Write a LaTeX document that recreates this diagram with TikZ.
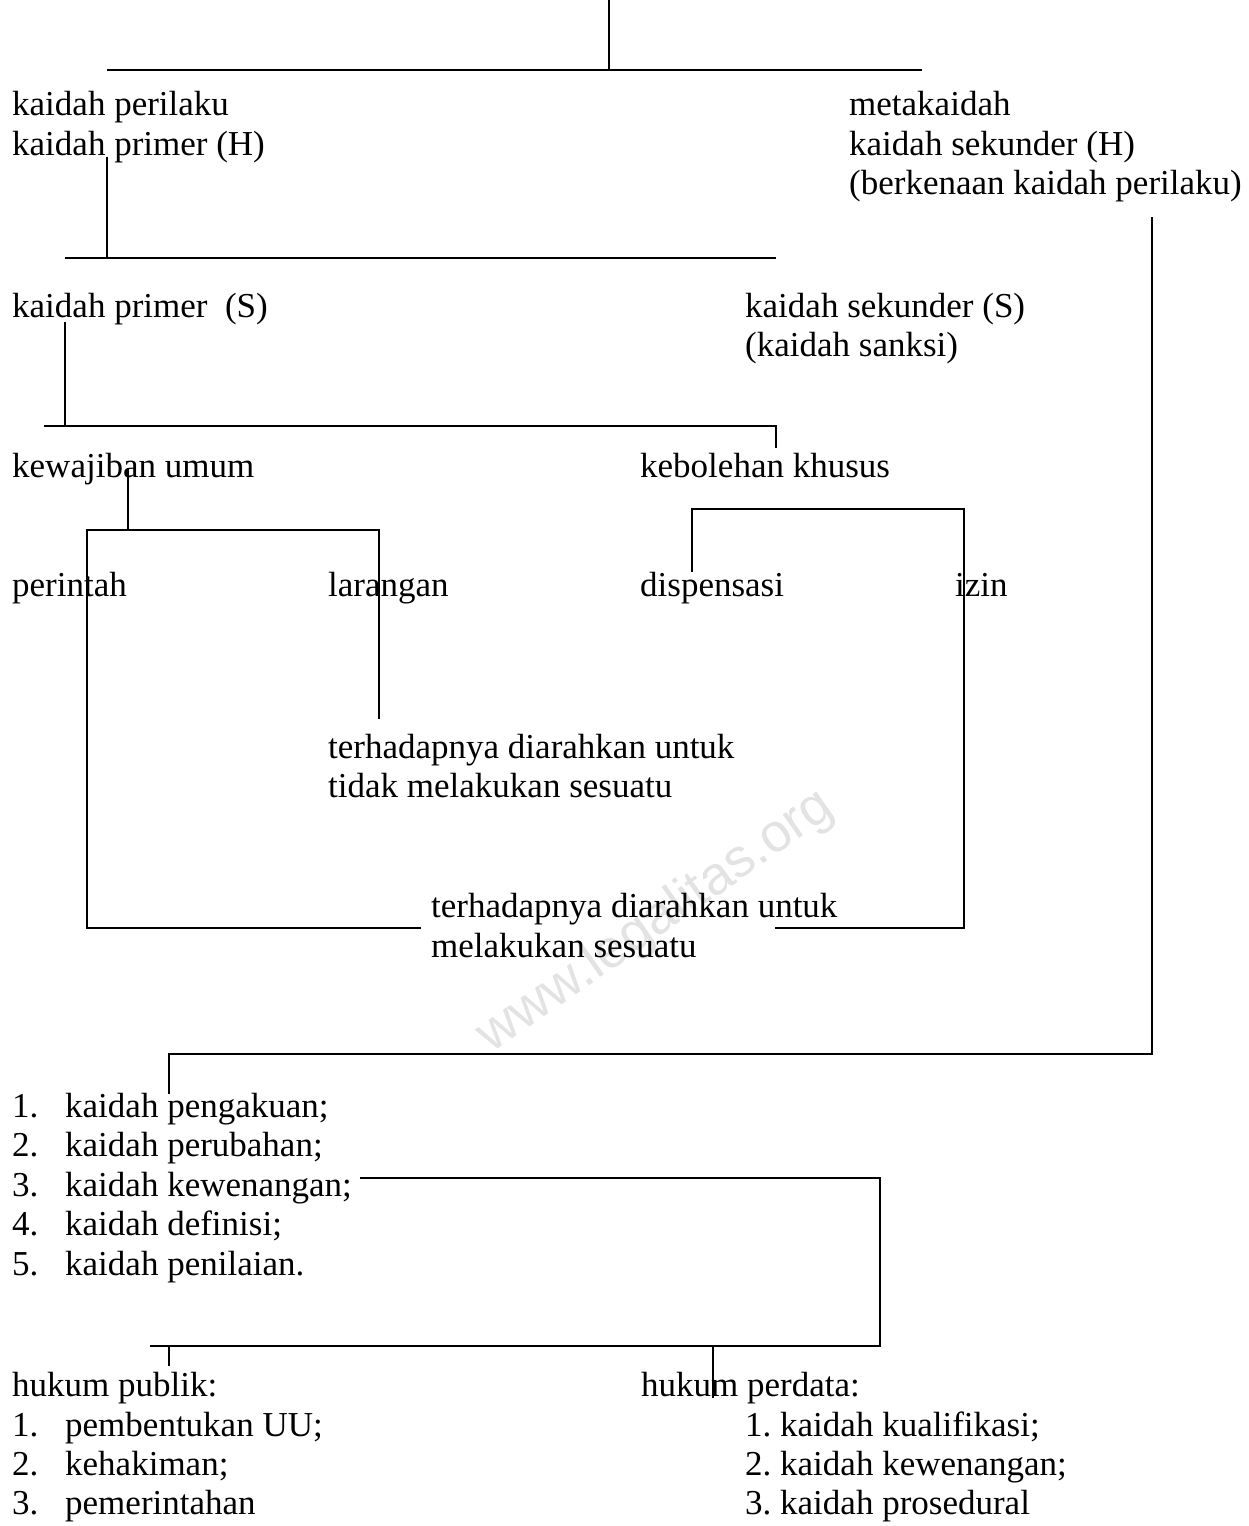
\documentclass[tikz,border=0pt]{standalone}
\usepackage{fontspec}
\setmainfont{Liberation Serif}
\newfontfamily\markfont{Liberation Sans}

\begin{document}
\begin{tikzpicture}[x=1pt, y=-1pt,
    txt/.style={anchor=base west, inner sep=0pt, font=\fontsize{35}{40}\selectfont},
    ln/.style={line width=1.6pt}]
    \useasboundingbox (0,0) rectangle (1248,1526);

    % watermark
    \node[font=\markfont\fontsize{54}{54}\selectfont, text=black!11, rotate=35]
        (mark) at (656,922) {www.legalitas.org};

    % texts
    \node[txt] (perilaku) at (12,115) {kaidah perilaku};
    \node[txt] (primerH) at (12,155) {kaidah primer (H)};
    \node[txt] (meta) at (849,115) {metakaidah};
    \node[txt] (sekunderH) at (849,155) {kaidah sekunder (H)};
    \node[txt] (berkenaan) at (849,194) {(berkenaan kaidah perilaku)};

    \node[txt] (primerS) at (12,317) {kaidah primer\ \ (S)};
    \node[txt] (sekunderS) at (745,317) {kaidah sekunder (S)};
    \node[txt] (sanksi) at (745,356) {(kaidah sanksi)};

    \node[txt] (kewajiban) at (12,477) {kewajiban umum};
    \node[txt] (kebolehan) at (640,477) {kebolehan khusus};

    \node[txt] (perintah) at (12,596) {perintah};
    \node[txt] (larangan) at (328,596) {larangan};
    \node[txt] (dispensasi) at (640,596) {dispensasi};
    \node[txt] (izin) at (955,596) {izin};

    \node[txt] (tidakA) at (328,758) {terhadapnya diarahkan untuk};
    \node[txt] (tidakB) at (328,797) {tidak melakukan sesuatu};
    \node[txt] (lakuA) at (431,917) {terhadapnya diarahkan untuk};
    \node[txt] (lakuB) at (431,957) {melakukan sesuatu};

    \node[txt] (m1) at (12,1117) {1.};
    \node[txt] (pengakuan) at (65,1117) {kaidah pengakuan;};
    \node[txt] (m2) at (12,1156) {2.};
    \node[txt] (perubahan) at (65,1156) {kaidah perubahan;};
    \node[txt] (m3) at (12,1196) {3.};
    \node[txt] (kewenangan) at (65,1196) {kaidah kewenangan;};
    \node[txt] (m4) at (12,1235) {4.};
    \node[txt] (definisi) at (65,1235) {kaidah definisi;};
    \node[txt] (m5) at (12,1275) {5.};
    \node[txt] (penilaian) at (65,1275) {kaidah penilaian.};

    \node[txt] (publik) at (12,1396) {hukum publik:};
    \node[txt] (p1) at (12,1436) {1.};
    \node[txt] (uu) at (65,1436) {pembentukan UU;};
    \node[txt] (p2) at (12,1475) {2.};
    \node[txt] (hakim) at (65,1475) {kehakiman;};
    \node[txt] (p3) at (12,1514) {3.};
    \node[txt] (perintahan) at (65,1514) {pemerintahan};

    \node[txt] (perdata) at (641,1396) {hukum perdata:};
    \node[txt] (kualifikasi) at (745,1436) {1.\ kaidah kualifikasi;};
    \node[txt] (wenang) at (745,1475) {2.\ kaidah kewenangan;};
    \node[txt] (prosedural) at (745,1514) {3.\ kaidah prosedural};

    % junction points
    \coordinate (root) at (609,0);
    \coordinate (rootbar) at (609,70);
    \coordinate (hL) at (107,70);
    \coordinate (hR) at (922,70);
    \coordinate (pH) at (107,157);
    \coordinate (pHbar) at (107,258);
    \coordinate (sL) at (65,258);
    \coordinate (sR) at (776,258);
    \coordinate (pS) at (65,322);
    \coordinate (pSbar) at (65,426);
    \coordinate (kL) at (44,426);
    \coordinate (kR) at (776,426);
    \coordinate (kRend) at (776,448);
    \coordinate (kw) at (128,468);
    \coordinate (kwbar) at (128,530);
    \coordinate (prL) at (87,530);
    \coordinate (prR) at (379,530);
    \coordinate (lar) at (379,719);
    \coordinate (prB) at (87,928);
    \coordinate (lkL) at (421,928);
    \coordinate (dsp) at (692,572);
    \coordinate (dspT) at (692,509);
    \coordinate (izT) at (964,509);
    \coordinate (izB) at (964,928);
    \coordinate (lkR) at (775,928);
    \coordinate (meT) at (1152,217);
    \coordinate (meB) at (1152,1054);
    \coordinate (meL) at (169,1054);
    \coordinate (meEnd) at (169,1094);
    \coordinate (kwA) at (360,1178);
    \coordinate (kwB) at (880,1178);
    \coordinate (kwC) at (880,1346);
    \coordinate (hkL) at (150,1346);
    \coordinate (pub) at (169,1346);
    \coordinate (pubEnd) at (169,1366);
    \coordinate (prd) at (713,1346);
    \coordinate (prdEnd) at (713,1398);

    % connectors
    \draw[ln] (root) -- (rootbar);
    \draw[ln] (hL) -- (hR);
    \draw[ln] (pH) -- (pHbar);
    \draw[ln] (sL) -- (sR);
    \draw[ln] (pS) -- (pSbar);
    \draw[ln] (kL) -- (kR) -- (kRend);
    \draw[ln] (kw) -- (kwbar);
    \draw[ln] (lkL) -- (prB) -- (prL) -- (prR) -- (lar);
    \draw[ln] (dsp) -- (dspT) -- (izT) -- (izB) -- (lkR);
    \draw[ln] (meT) -- (meB) -- (meL) -- (meEnd);
    \draw[ln] (kwA) -- (kwB) -- (kwC) -- (hkL);
    \draw[ln] (pub) -- (pubEnd);
    \draw[ln] (prd) -- (prdEnd);
\end{tikzpicture}
\end{document}
